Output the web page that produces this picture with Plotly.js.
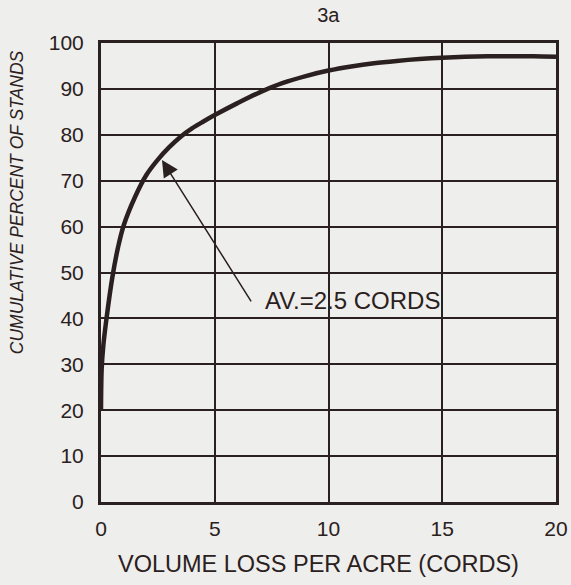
<!DOCTYPE html>
<html>
<head>
<meta charset="utf-8">
<script src="https://cdn.plot.ly/plotly-3.0.1.min.js"></script>
<style>
html,body{margin:0;padding:0;background:#eeeeec;}
#chart{width:571px;height:585px;}
</style>
</head>
<body>
<div id="chart"></div>
<script>
// Volume loss per acre (cords) vs cumulative percent of stands
const volumeLoss = [0, 0.03, 0.1, 0.25, 0.5, 0.75, 1, 1.5, 2, 2.5, 3, 3.5, 4, 4.5, 5, 6, 7, 8, 9, 10, 11, 12, 13, 14, 15, 16, 17, 18, 19, 20];
const cumulativePct = [20, 29, 34, 40.3, 49, 55.5, 60.3, 66.5, 71.3, 74.6, 77.3, 79.6, 81.4, 82.9, 84.3, 86.9, 89.3, 91.3, 92.8, 94.0, 94.9, 95.6, 96.1, 96.5, 96.8, 97.0, 97.1, 97.1, 97.1, 97.0];
const xTicks = [0, 5, 10, 15, 20];
const yTicks = [0, 10, 20, 30, 40, 50, 60, 70, 80, 90, 100];

const ink = '#2b2020';
const bg = '#eeeeec';
const fontFam = 'Liberation Sans, Arial, Helvetica, sans-serif';

const trace = {
  x: volumeLoss,
  y: cumulativePct,
  type: 'scatter',
  mode: 'lines',
  line: {color: ink, width: 4.5, shape: 'spline', smoothing: 1},
  hoverinfo: 'none'
};

const layout = {
  width: 571,
  height: 585,
  paper_bgcolor: bg,
  plot_bgcolor: bg,
  margin: {l: 101, r: 15, t: 43, b: 83},
  showlegend: false,
  font: {family: fontFam, color: ink, size: 21},
  title: {text: '3a', x: 0.575, xanchor: 'center', y: 0.974, yanchor: 'middle', font: {size: 20, color: ink}},
  xaxis: {
    range: [0, 20],
    tickvals: xTicks,
    ticktext: xTicks.map(String),
    showgrid: true,
    gridcolor: ink,
    gridwidth: 2,
    zeroline: false,
    showline: true,
    mirror: true,
    linecolor: ink,
    linewidth: 3,
    ticks: '',
    ticklabelstandoff: 6,
    tickfont: {size: 21, color: ink}
  },
  yaxis: {
    range: [0, 100],
    tickvals: yTicks,
    ticktext: yTicks.map(String),
    showgrid: true,
    gridcolor: ink,
    gridwidth: 2,
    zeroline: false,
    showline: true,
    mirror: true,
    linecolor: ink,
    linewidth: 3,
    ticks: '',
    ticklabelstandoff: 10,
    tickfont: {size: 21, color: ink}
  },
  annotations: [
    {
      text: '<i>CUMULATIVE PERCENT OF STANDS</i>',
      xref: 'paper', yref: 'paper',
      x: -0.186, y: 0.654,
      xanchor: 'center', yanchor: 'middle',
      textangle: -90,
      showarrow: false,
      font: {size: 17.5, color: ink}
    },
    {
      text: 'VOLUME LOSS PER ACRE (CORDS)',
      xref: 'paper', yref: 'paper',
      x: 0.477, y: -0.135,
      xanchor: 'center', yanchor: 'middle',
      showarrow: false,
      font: {size: 23.5, color: ink}
    },
    {
      text: '',
      x: 2.68, y: 74.5,
      ax: 6.64, ay: 43.4,
      axref: 'x', ayref: 'y',
      showarrow: true,
      arrowhead: 2,
      arrowsize: 2.2,
      arrowwidth: 1.5,
      arrowcolor: ink,
      standoff: 0,
      startstandoff: 0
    },
    {
      text: 'AV.=2.5 CORDS',
      x: 7.12, y: 44,
      xanchor: 'left', yanchor: 'middle',
      showarrow: false,
      font: {size: 24, color: ink}
    }
  ]
};

Plotly.newPlot('chart', [trace], layout, {staticPlot: true, displayModeBar: false});
</script>
</body>
</html>
